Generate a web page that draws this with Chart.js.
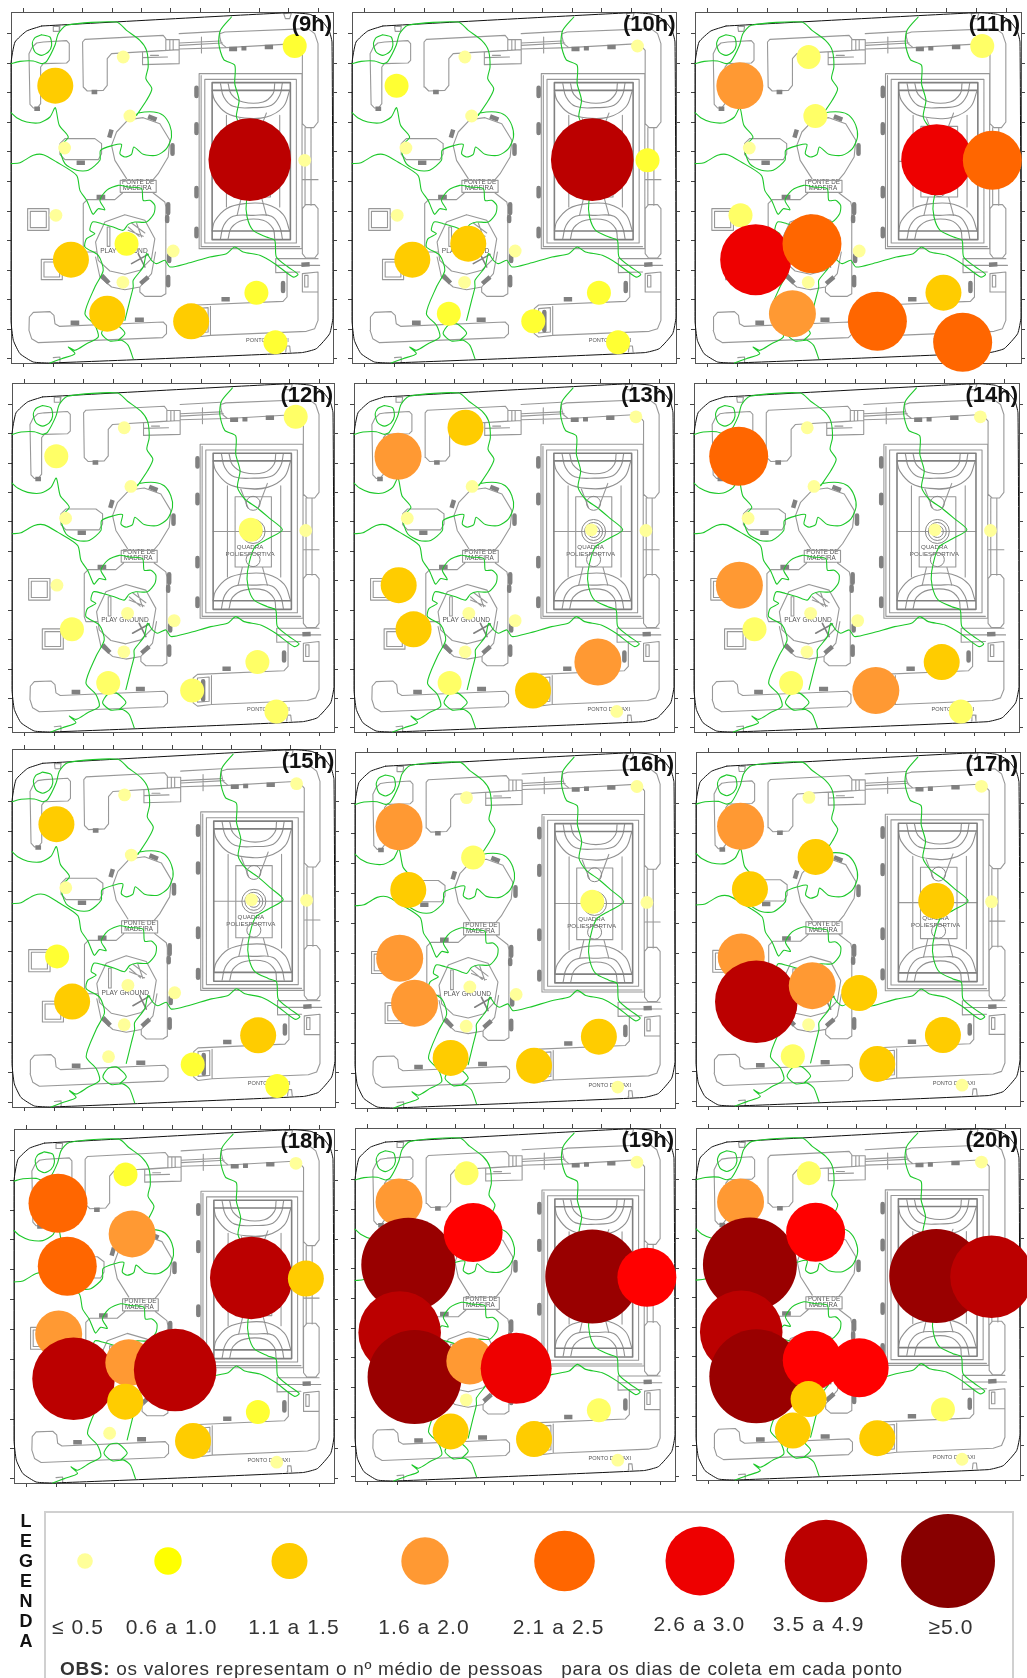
<!DOCTYPE html>
<html><head><meta charset="utf-8">
<style>
html,body{margin:0;padding:0;background:#fff;width:1027px;height:1678px;overflow:hidden}
#stage{position:absolute;left:0;top:0;width:1027px;height:1678px;overflow:hidden;font-family:"Liberation Sans",Arial,sans-serif}
canvas{position:absolute}
.hour{position:absolute;font-weight:bold;font-size:22px;color:#111;text-align:right;line-height:24px;white-space:nowrap}
.lg{position:absolute;font-size:21px;color:#333;letter-spacing:1.1px;line-height:24px;transform:translateX(-50%);white-space:nowrap}
.lv{position:absolute;left:19px;width:14px;text-align:center;font-weight:bold;font-size:18px;line-height:20px;color:#111}
#legbox{position:absolute;left:44px;top:1511px;width:966px;height:170px;border:2px solid #d0d0d0}
#obs{position:absolute;left:60px;top:1658px;font-size:19px;line-height:22px;color:#333;white-space:pre;letter-spacing:.69px}
</style>
<script src="https://cdn.jsdelivr.net/npm/chart.js@4"></script>
</head><body><div id="stage"><div id="legbox"></div></div>
<script>
// ---------- panels ----------
const HOURS=["(9h)","(10h)","(11h)","(12h)","(13h)","(14h)","(15h)","(16h)","(17h)","(18h)","(19h)","(20h)"];
const BOX_LEFT  =[11,352.3,695.4,11.8,354.3,694,12.4,355,695.5,14.4,355,695.5];
const BOX_RIGHT =[333,676.5,1021,334,674.6,1019,335.3,675,1019,334,675,1019];
const BOX_TOP   =[11.7,11.7,11.7,382.7,382.7,382.7,749.3,751.7,752.3,1129,1127.7,1128.3];
const BOX_BOTTOM=[362.7,362.7,362.7,732,732,732,1107.3,1107.3,1106.7,1482.7,1481,1480];
// ---------- sampling sites (map units) ----------
const SITE_X=[885,370,166,390,750,915,194,168,380,213,520,369,322,574,770,827];
const SITE_Y=[137,170,256,347,478,480,443,645,730,778,752,846,940,963,877,1026];
// ---------- mean people per site, one list per hour ----------
const V9 =[.9,.3,1.3,.3,4,.3,.3,.3,.9,1.3,.3,.3,1.3,1.3,.9,.9];
const V10=[.3,.3,.9,.3,4,.9,.3,.3,1.3,1.3,.3,.3,.9,.9,.9,.9];
const V11=[.7,.7,1.8,.7,2.8,2.3,.3,.7,2.3,2.8,.3,.3,1.8,2.3,1.3,2.3];
const V12=[.7,.3,.7,.3,.7,.3,.3,.3,.3,.7,.3,.3,.7,.7,.7,.7];
const V13=[.3,1.3,1.8,.3,.3,.3,.3,1.3,.3,1.3,.3,.3,.7,1.3,1.8,.3];
const V14=[.3,.3,2.3,.3,.3,.3,.3,1.8,.3,.7,.3,.3,.7,1.8,1.3,.7];
const V15=[.3,.3,1.3,.3,.3,.3,.3,.9,.3,1.3,.3,.3,.3,.9,1.3,.9];
const V16=[.3,.3,1.8,.7,.7,.3,1.3,1.8,.3,1.8,.3,.3,1.3,1.3,1.3,.3];
const V17=[.3,.3,1.8,1.3,1.3,.3,1.3,1.8,1.8,4,1.3,.3,.7,1.3,1.3,.3];
const V18=[.3,.9,2.3,1.8,4,1.3,2.3,1.8,1.8,4,4,1.3,.3,1.3,.9,.3];
const V19=[.3,.7,1.8,2.6,5.5,2.6,5.5,4,1.8,5.5,2.8,.3,1.3,1.3,.7,.3];
const V20=[.3,.7,1.8,2.6,5.5,4,5.5,4,2.6,5.5,2.6,1.3,1.3,1.3,.7,.3];
const VALUES=[V9,V10,V11,V12,V13,V14,V15,V16,V17,V18,V19,V20];
const DRAW_ORDER=[0,1,2,6,3,4,5,7,9,8,10,12,11,13,14,15];
// ---------- value classes ----------
const TIER_MAX  =[.5,.8,1,1.5,2,2.5,2.7,3.4,4.9,99];
const TIER_COLOR=["#FFFF99","#FFFF66","#FFFF33","#FFCC00","#FF9933","#FF6600","#FF0000","#EE0000","#BB0000","#990000"];
const TIER_R    =[6.4,12,12,18,23.5,29.5,29.5,35.5,41.3,47];
// ---------- legend ----------
const LEGEND_LABELS=["≤ 0.5","0.6 a 1.0","1.1 a 1.5","1.6 a 2.0","2.1 a 2.5","2.6 a 3.0","3.5  a 4.9","≥5.0"];
const LEGEND_X=[85,168,289.5,425,564.5,700,826,948];
const LEGEND_TEXT_X=[78,171.6,294,424,558.6,699.4,818.6,951];
const LEGEND_TEXT_Y=[1615,1615,1615,1615,1615,1612,1612,1615];
const LEGEND_COLOR=["#FFFF99","#FFFF00","#FFCC00","#FF9933","#FF6600","#EE0000","#BB0000","#880000"];
const LEGEND_R=[7.8,13.7,18,23.7,30.3,34.5,41.3,47];
const LEGEND_WORD="LEGENDA";
const OBS_BOLD="OBS:";
const OBS_TEXT=" os valores representam o nº médio de pessoas   para os dias de coleta em cada ponto";
// ---------- axes ----------
const X_TICKS=[71,160,248,337,425,513,602,690,779,867,956];
const Y_TICKS=[100,188,277,365,454,543,632,720,809,898,986,1075];
const MAP_XMIN=33,MAP_XMAX=1000,MAP_YMIN=35,MAP_YMAX=1088;
// ---------- map linework (map units) ----------
const MAP_OUTLINE=[[[125,77],[870,37],[930,42],[965,60],[988,90],[997,125],[1000,950],[990,1000],[950,1045],[905,1057],[150,1088],[100,1085],[60,1060],[40,1020],[33,960],[33,190],[45,125],[80,92],[125,77]]];
const MAP_GREY=[
 [[97,140],[110,128],[130,125],[200,121],[208,130],[208,180],[200,188],[130,190],[122,200],[122,310],[112,323],[100,323],[90,312],[87,160],[97,140]],
 [[248,125],[255,117],[490,105],[498,115],[498,150],[335,160],[322,175],[322,255],[310,270],[262,272],[250,260],[248,125]],
 [[428,155],[538,148],[538,190],[428,193],[428,155]],[[428,172],[503,170]],[[452,165],[476,165]],
 [[500,118],[538,118],[538,148]],[[510,118],[510,148]],[[520,118],[520,148]],[[538,100],[660,93]],[[538,128],[660,122]],[[538,135],[668,128]],[[538,146],[680,142]],[[605,110],[605,158]],
 [[660,100],[675,95],[925,85],[945,100],[955,130],[955,365],[942,382],[920,382],[908,370],[908,150],[890,130],[680,142],[665,130],[660,110],[660,100]],
 [[916,382],[916,615]],[[934,382],[934,615]],[[910,538],[955,538]],
 [[908,625],[918,613],[945,613],[955,625],[955,760],[945,773],[918,773],[908,760],[908,625]],
 [[598,220],[907,220],[907,745],[598,745],[598,220]],[[604,226],[604,739],[900,739]],
 [[615,237],[890,237],[890,728],[615,728],[615,237]],
 [[680,345],[680,620]],[[840,345],[840,620]],[[703,378],[812,378],[812,590],[703,590],[703,378]],[[637,483],[872,483]],
 [[720,355],[742,412]],[[800,338],[772,412]],[[725,590],[712,645]],[[785,590],[800,645]],
 [[361,540],[469,540],[469,576],[361,576],[361,540]],
 [[250,740],[250,610],[262,598],[345,598],[368,578]],[[460,578],[495,605],[498,620],[498,880],[485,888],[435,888],[420,875],[420,860]],[[250,740],[255,755],[290,755]],
 [[380,535],[345,480],[335,435],[350,395],[385,358],[430,352],[480,370],[510,420],[505,470],[475,520],[458,540]],
 [[375,643],[435,660],[465,715],[455,775],[420,810],[375,822],[330,812],[295,780],[287,725],[315,665],[375,643]],
 [[287,770],[300,830],[335,860],[375,868],[420,860],[455,820],[467,755]],
 [[180,430],[195,415],[285,415],[305,430],[305,460],[295,478],[195,478],[180,462],[180,430]],
 [[83,625],[147,625],[147,690],[83,690],[83,625]],[[91,633],[139,633],[139,682],[91,682],[91,633]],
 [[124,777],[187,777],[187,838],[124,838],[124,777]],[[132,785],[179,785],[179,830],[132,830],[132,785]],
 [[88,950],[100,936],[150,934],[162,945],[165,970],[178,978],[490,965],[500,975],[500,1000],[488,1012],[115,1027],[95,1015],[87,990],[88,950]],
 [[590,914],[850,903],[862,890],[862,815]],[[828,775],[955,775]],[[828,775],[828,817],[900,815]],[[828,795],[960,795]],
 [[632,918],[632,1005],[920,993],[945,985],[955,960],[955,820]],[[590,914],[577,925],[577,1000],[590,1010],[632,1005]],[[590,925],[625,922],[625,995],[590,998],[590,925]],
 [[908,820],[955,815],[955,875],[908,875],[908,820]],[[915,825],[925,825],[925,860],[915,860],[915,825]],
 [[160,78],[180,78],[178,93],[162,93],[160,78]],[[160,1072],[180,1070],[180,1086]],[[852,40],[875,38],[870,55],[857,55],[852,40]],[[858,1055],[860,1037],[870,1037],[872,1055]],
 [[322,680],[330,680],[330,738],[322,738],[322,680]],[[385,680],[418,708]],[[385,690],[430,708]],[[395,668],[435,698]],[[410,668],[425,710]]
];
const MAP_ARCS=[
 [[637,270],[645,300],[680,338],[735,353],[800,350],[850,320],[870,270]],
 [[662,250],[672,290],[700,318],[760,322],[815,315],[840,285],[848,248]],
 [[685,250],[695,282],[730,305],[790,305],[820,280],[825,250]],
 [[637,692],[645,662],[680,625],[735,610],[800,612],[850,642],[870,692]],
 [[662,715],[672,675],[700,648],[760,645],[815,648],[840,680],[848,715]],
 [[685,715],[695,682],[730,660],[790,660],[820,685],[825,715]]
];
const MAP_THICK=[
 [[637,247],[872,247],[872,718],[637,718],[637,247]],[[637,270],[872,270]],[[637,692],[872,692]],
 [[395,790],[445,762]],[[415,760],[435,800]]
];
const MAP_BLOBS=[
 [[212,967],[238,967]],[[405,958],[432,958]],[[665,897],[690,897]],[[850,848],[850,872]],[[505,612],[505,638]],[[502,650],[502,662]],[[505,830],[505,855]],[[508,765],[508,782]],
 [[445,830],[422,850]],[[305,825],[327,848]],[[290,590],[316,590]],[[445,348],[470,358]],[[335,388],[328,412]],[[518,435],[518,460]],[[230,487],[255,487]],
 [[590,262],[590,287]],[[590,372],[590,398]],[[590,563],[590,588]],[[590,685],[590,708]],[[688,146],[712,146]],[[725,144],[740,144]],[[795,140],[820,140]],[[275,275],[292,275]],[[103,325],[120,325]],[[905,793],[930,792]],[[607,935],[607,990]]
];
const MAP_GREEN=[
 [[33,190],[60,183],[100,182],[125,190],[140,183],[165,135],[175,100],[200,75],[350,65],[380,90],[420,120],[440,150],[445,200],[438,235],[456,265],[440,300],[410,345]],
 [[125,103],[150,110],[155,135],[145,155],[125,165],[105,155],[97,130],[105,112],[125,103]],
 [[33,337],[50,352],[80,365],[120,367],[150,350],[166,322],[178,375],[205,410],[180,440],[195,490],[230,510],[265,510],[300,480],[302,450],[340,435],[365,432],[360,460],[375,470],[395,462],[402,440],[430,462],[470,465],[500,445],[515,410],[510,375],[490,345],[462,335],[415,338],[408,345]],
 [[33,490],[60,487],[100,465],[130,463],[170,485],[230,525],[240,570],[260,600],[275,635],[280,642],[295,625],[315,628],[300,600],[320,570],[355,555],[385,560],[425,565],[430,600],[450,600],[465,615],[462,640],[440,665],[405,665],[385,672],[370,690],[340,680],[305,670],[278,665],[270,690],[285,700],[260,715],[255,740],[295,765],[310,810],[285,860],[255,940],[285,975],[295,1010],[260,1030],[225,1050],[205,1040],[225,1060],[185,1075],[150,1088]],
 [[400,1075],[385,1035],[365,1020],[330,1022],[305,1000],[320,975],[345,970],[365,985],[375,1000],[355,1020]],
 [[375,960],[390,900],[400,860],[400,840],[430,800],[440,760],[455,780],[470,790],[495,780],[510,800],[560,790],[630,770],[680,760],[705,740],[730,755],[780,765],[825,790],[880,830],[895,822],[865,800],[830,770],[825,720],[800,710],[760,690],[742,650],[740,605],[762,530],[802,505],[845,478],[805,442],[770,412],[732,385],[710,350],[718,300],[705,250],[705,195],[672,178],[657,130],[662,90],[695,50]]
];
const MAP_RINGS_X=[757,757,757,757,757],MAP_RINGS_Y=[483,483,483,398,568],MAP_RINGS_R=[12,9,6,7,7];
const MAP_LABELS=[["PONTE DE",415,547],["MADEIRA",412,564],["PLAY GROUND",372,752],["QUADRA",748,530],["POLIESPORTIVA",748,551],["PONTO DE TAXI",803,1020]];
const MAP_LABEL_PX=[6.3,6.3,6.6,6.2,6.2,5.6];

function flat(list){const a=[];list.forEach(l=>{l.forEach(p=>a.push({x:p[0],y:p[1]}));a.push({x:NaN,y:NaN});});return a;}
function tier(v){let i=0;while(v>TIER_MAX[i])i++;return i;}
function lineSet(list,color,width,tension,order,cap){
  return {type:'line',data:flat(list),borderColor:color,borderWidth:width,pointRadius:0,tension:tension,fill:false,spanGaps:false,order:order,clip:false,borderJoinStyle:'round',borderCapStyle:cap||'round'};
}
const stage=document.getElementById('stage');
const M=60;
const mapText={id:'mapText',beforeDatasetsDraw(c){
  const x=c.scales.x,y=c.scales.y,g=c.ctx;g.save();g.fillStyle='#555';g.textAlign='center';g.textBaseline='middle';
  MAP_LABELS.forEach((t,k)=>{g.font=MAP_LABEL_PX[k]+'px "Liberation Sans",Arial,sans-serif';g.fillText(t[0],x.getPixelForValue(t[1]),y.getPixelForValue(t[2]));});g.restore();
}};
function axis(axisName,position,min,max,vals,reverse){
  return {type:'linear',axis:axisName,position:position,min:min,max:max,reverse:!!reverse,
    ticks:{display:false,autoSkip:false},
    grid:{drawOnChartArea:false,drawTicks:true,tickLength:4,tickColor:'#444',tickWidth:1},
    border:{display:true,color:'#555',width:1},
    afterBuildTicks(s){s.ticks=vals.map(v=>({value:v}));},
    afterFit(s){if(axisName==='x')s.height=0;else s.width=0;}
  };
}
HOURS.forEach((h,i)=>{
  const L=BOX_LEFT[i],R=BOX_RIGHT[i],T=BOX_TOP[i],B=BOX_BOTTOM[i];
  const cv=document.createElement('canvas');
  const w=Math.round(R-L),ht=Math.round(B-T);
  cv.width=w+2*M;cv.height=ht+2*M;cv.style.left=(L-M)+'px';cv.style.top=(T-M)+'px';cv.style.width=cv.width+'px';cv.style.height=cv.height+'px';
  stage.appendChild(cv);
  const vals=VALUES[i];
  new Chart(cv,{type:'bubble',plugins:[mapText],data:{datasets:[
    {label:h,order:0,clip:false,borderWidth:0,
     data:DRAW_ORDER.map(k=>({x:SITE_X[k],y:SITE_Y[k],r:TIER_R[tier(vals[k])]})),
     backgroundColor:DRAW_ORDER.map(k=>TIER_COLOR[tier(vals[k])])},
    {type:'bubble',order:1,clip:false,borderWidth:1,borderColor:'#888',backgroundColor:'rgba(0,0,0,0)',
     data:MAP_RINGS_X.map((x,k)=>({x:x,y:MAP_RINGS_Y[k],r:MAP_RINGS_R[k]}))},
    lineSet(MAP_GREEN,'#1DC82A',1.1,0.25,2),
    lineSet(MAP_OUTLINE,'#111',1,0.15,3),
    lineSet(MAP_BLOBS,'#808080',4.5,0,4,'butt'),
    lineSet(MAP_THICK,'#808080',1.6,0,5),
    lineSet(MAP_ARCS,'#909090',1.1,0.4,6),
    lineSet(MAP_GREY,'#989898',1.1,0,7)
  ]},options:{responsive:false,animation:false,events:[],
    layout:{padding:M,autoPadding:false},
    plugins:{legend:{display:false},tooltip:{enabled:false},title:{display:false}},
    scales:{
      x:axis('x','bottom',MAP_XMIN,MAP_XMAX,X_TICKS),
      xt:axis('x','top',MAP_XMIN,MAP_XMAX,X_TICKS),
      y:axis('y','left',MAP_YMIN,MAP_YMAX,Y_TICKS,true),
      yr:axis('y','right',MAP_YMIN,MAP_YMAX,Y_TICKS,true)
    }}});
  const d=document.createElement('div');d.className='hour';d.textContent=h;
  d.style.right=(1027-R+1)+'px';d.style.top=T+'px';stage.appendChild(d);
});
// ---------- legend ----------
(function(){
  const cv=document.createElement('canvas');cv.width=1027;cv.height=170;cv.style.left='0';cv.style.top='1508px';cv.style.width='1027px';cv.style.height='170px';stage.appendChild(cv);
  new Chart(cv,{type:'bubble',data:{datasets:[{label:'LEGENDA',clip:false,borderWidth:0,
      data:LEGEND_X.map((x,k)=>({x:x,y:0,r:LEGEND_R[k]})),backgroundColor:LEGEND_COLOR}]},
    options:{responsive:false,animation:false,events:[],layout:{padding:0,autoPadding:false},
      plugins:{legend:{display:false},tooltip:{enabled:false}},
      scales:{x:{type:'linear',min:0,max:1027,display:false},y:{type:'linear',min:-53,max:117,display:false,reverse:true}}}});
  LEGEND_LABELS.forEach((t,k)=>{const d=document.createElement('div');d.className='lg';d.textContent=t;d.style.left=LEGEND_TEXT_X[k]+'px';d.style.top=LEGEND_TEXT_Y[k]+'px';stage.appendChild(d);});
  [...LEGEND_WORD].forEach((c,k)=>{const d=document.createElement('div');d.className='lv';d.textContent=c;d.style.top=(1511+k*20)+'px';stage.appendChild(d);});
  const o=document.createElement('div');o.id='obs';const b=document.createElement('b');b.textContent=OBS_BOLD;o.appendChild(b);o.appendChild(document.createTextNode(OBS_TEXT));stage.appendChild(o);
})();
</script></body></html>
